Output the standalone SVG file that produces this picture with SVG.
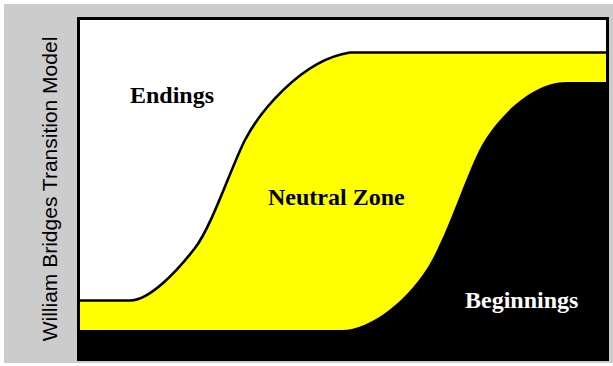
<svg xmlns="http://www.w3.org/2000/svg" width="613" height="366" viewBox="0 0 613 366">
  <style>
    .lbl { font-family: "Liberation Serif", "Times New Roman", serif; font-weight: bold; font-size: 24px; }
    .axis { font-family: "Liberation Sans", Arial, sans-serif; font-size: 21px; fill: #000000; }
  </style>
  <rect x="0" y="0" width="613" height="366" fill="#ffffff"/>
  <rect x="4" y="4" width="609" height="359" fill="#cccccc"/>
  <g id="plot">
    <rect x="78.5" y="18.5" width="529" height="341" fill="#ffffff"/>
    <g id="neutral-zone-region">
      <path d="M78,300.5 L130,300.5 C150,300.5 178,270 195,248 C212,226 232,165 245,140 C258,115 300,60 350,52.5 L608,52.5 L608,361 L78,361 Z" fill="#ffff00"/>
    </g>
    <g id="beginnings-region">
      <path d="M78,330 L342,330 C370,330 410,300 432,260 C450,227 468,170 482,145 C496,120 530,82 567,82 L608,82 L608,361 L78,361 Z" fill="#000000"/>
    </g>
    <g id="endings-boundary">
      <path d="M78,300.5 L130,300.5 C150,300.5 178,270 195,248 C212,226 232,165 245,140 C258,115 300,60 350,52.5 L608,52.5" fill="none" stroke="#000000" stroke-width="2.6"/>
    </g>
    <rect x="78.5" y="18.5" width="529" height="341" fill="none" stroke="#000000" stroke-width="3"/>
  </g>
  <g id="endings"><text class="lbl" x="130" y="103" fill="#000000">Endings</text></g>
  <g id="neutral-zone"><text class="lbl" x="268" y="205" fill="#000000">Neutral Zone</text></g>
  <g id="beginnings"><text class="lbl" x="465" y="308" fill="#ffffff">Beginnings</text></g>
  <g id="title"><text class="axis" transform="translate(57,189) rotate(-90)" text-anchor="middle">William Bridges Transition Model</text></g>
</svg>
